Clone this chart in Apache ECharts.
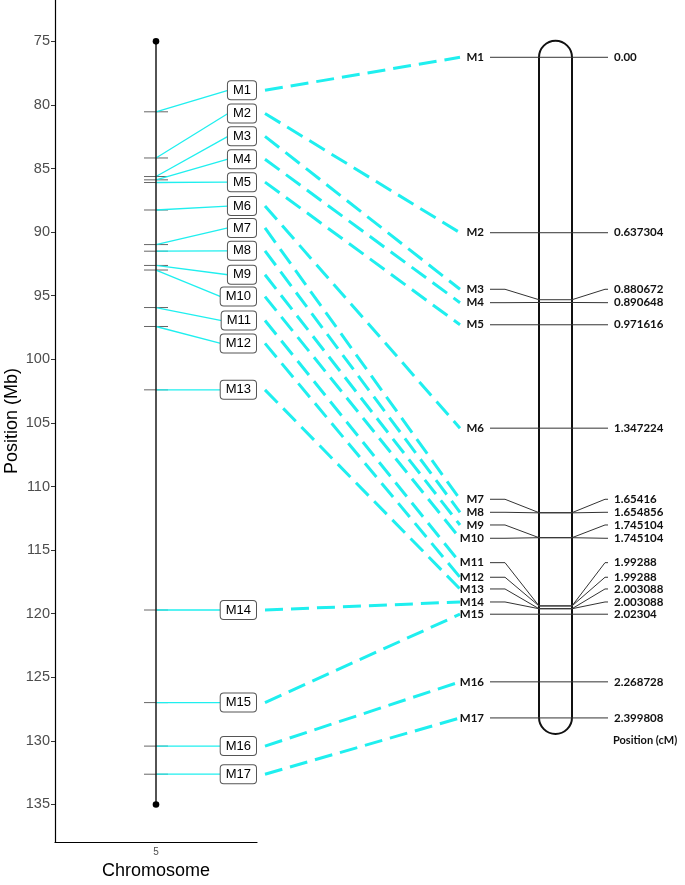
<!DOCTYPE html>
<html><head><meta charset="utf-8">
<script src="https://cdn.jsdelivr.net/npm/echarts@6/dist/echarts.min.js"></script>
<style>html,body{margin:0;padding:0;background:#fff}#c{width:685px;height:885px}</style>
</head><body><div id="c"></div>
<script>
// ---------------- data ----------------
const markers = ['M1','M2','M3','M4','M5','M6','M7','M8','M9','M10','M11','M12','M13','M14','M15','M16','M17'];
// physical positions (Mb) on chromosome 5
const physPosMb = [80.54, 84.17, 85.63, 85.89, 86.10, 88.26, 90.98, 91.50, 92.62, 92.98, 95.93, 97.42, 102.40, 119.71, 126.99, 130.41, 132.62];
// repelled label positions (Mb) of the boxes
const physLabelMb = [78.85, 80.67, 82.47, 84.27, 86.07, 87.95, 89.67, 91.47, 93.35, 95.07, 96.95, 98.75, 102.40, 119.71, 126.99, 130.41, 132.62];
// genetic positions (cM)
const geneticPosCm = [0, 0.637304, 0.880672, 0.890648, 0.971616, 1.347224, 1.65416, 1.654856, 1.745104, 1.745104, 1.99288, 1.99288, 2.003088, 2.003088, 2.02304, 2.268728, 2.399808];
const geneticLabels = ['0.00','0.637304','0.880672','0.890648','0.971616','1.347224','1.65416','1.654856','1.745104','1.745104','1.99288','1.99288','2.003088','2.003088','2.02304','2.268728','2.399808'];
// spread label positions (cM) on the linkage map
const geneticLabelCm = [0, 0.637304, 0.8427, 0.8914, 0.971616, 1.347224, 1.6055, 1.6528, 1.6989, 1.7472, 1.8358, 1.8888, 1.9313, 1.9786, 2.02304, 2.268728, 2.399808];
const chromosomeName = '5';
const chromStartMb = 75, chromEndMb = 135;
const linkageStartCm = -0.06, linkageEndCm = 2.458;
const yTickValues = [75, 80, 85, 90, 95, 100, 105, 110, 115, 120, 125, 130, 135];

// ---------------- layout / style ----------------
const LEFT_GRID = {left: 55, top: 0, width: 202, height: 846};
const RIGHT_GRID = {left: 539, top: 0, width: 33, height: 846};
const CYAN = '#1FEFEF';
const BOX_FONT = '13px "Liberation Sans", Arial, sans-serif';
const LAB_FONT = 'bold 11.5px Lato, "Open Sans", sans-serif';
const mctx = document.createElement('canvas').getContext('2d');
function textW(t, f) { mctx.font = f; return mctx.measureText(t).width; }

const chart = echarts.init(document.getElementById('c'), null, {renderer: 'canvas'});

function renderPhys(params, api) {
  const cs = params.coordSys;
  const i = params.dataIndex;
  const p = api.coord([api.value(0), api.value(1)]);
  const l = api.coord([api.value(0), api.value(2)]);
  const boxRight = cs.x + cs.width - 1;
  const w = textW(markers[i], BOX_FONT) + 10;
  return {type: 'group', children: [
    {type: 'line', shape: {x1: p[0] - 12, y1: p[1], x2: p[0] + 12, y2: p[1]}, style: {stroke: '#666', lineWidth: 1}},
    {type: 'line', shape: {x1: p[0], y1: p[1], x2: boxRight - w, y2: l[1]}, style: {stroke: CYAN, lineWidth: 1.3}},
    {type: 'text', x: boxRight, y: l[1], style: {text: markers[i], font: BOX_FONT, fill: '#000', align: 'right', verticalAlign: 'middle',
      backgroundColor: '#fff', borderColor: '#555', borderWidth: 1, borderRadius: 3, padding: [3, 5, 2, 5]}}
  ]};
}

function renderChrom(params, api) {
  const a = api.coord([api.value(0), api.value(1)]);
  const b = api.coord([api.value(0), api.value(2)]);
  return {type: 'group', children: [
    {type: 'line', shape: {x1: a[0], y1: a[1], x2: b[0], y2: b[1]}, style: {stroke: '#1a1a1a', lineWidth: 1.5}},
    {type: 'circle', shape: {cx: a[0], cy: a[1], r: 3.3}, style: {fill: '#000'}},
    {type: 'circle', shape: {cx: b[0], cy: b[1], r: 3.3}, style: {fill: '#000'}}
  ]};
}

function renderOutline(params, api) {
  const cs = params.coordSys;
  const y0 = api.coord([0.5, api.value(0)])[1];
  const y1 = api.coord([0.5, api.value(1)])[1];
  return {type: 'rect', shape: {x: cs.x, y: y0, width: cs.width, height: y1 - y0, r: cs.width / 2},
    style: {fill: null, stroke: '#111', lineWidth: 2}};
}

function renderGenetic(params, api) {
  const cs = params.coordSys;
  const i = params.dataIndex;
  const L = cs.x, R = cs.x + cs.width;
  const ay = api.coord([0.5, api.value(1)])[1];
  const ly = api.coord([0.5, api.value(2)])[1];
  return {type: 'group', children: [
    {type: 'polyline', shape: {points: [[L - 49, ly], [L - 34, ly], [L, ay], [R, ay], [R + 33, ly], [R + 36, ly]]},
      style: {stroke: '#333', lineWidth: 1, fill: null}},
    {type: 'text', x: L - 55, y: ly, style: {text: markers[i], font: LAB_FONT, fill: '#111', align: 'right', verticalAlign: 'middle'}},
    {type: 'text', x: R + 42, y: ly, style: {text: geneticLabels[i], font: LAB_FONT, fill: '#111', align: 'left', verticalAlign: 'middle'}}
  ]};
}

function renderDash(params, api) {
  return {type: 'line', shape: {x1: api.value(0), y1: api.value(1), x2: api.value(2), y2: api.value(3)},
    style: {stroke: CYAN, lineWidth: 3, lineDash: [18, 8]}};
}

const option = {
  animation: false,
  backgroundColor: '#fff',
  grid: [
    Object.assign({containLabel: false}, LEFT_GRID),
    Object.assign({containLabel: false}, RIGHT_GRID)
  ],
  xAxis: [
    {type: 'category', gridIndex: 0, data: [chromosomeName], boundaryGap: true,
      axisLine: {lineStyle: {color: '#000', width: 1.2}}, axisTick: {show: false},
      axisLabel: {fontSize: 10, color: '#4d4d4d', margin: 5, fontFamily: '"Liberation Sans", Arial'},
      name: 'Chromosome', nameLocation: 'middle', nameGap: 20,
      nameTextStyle: {fontSize: 18, color: '#000', fontFamily: '"Liberation Sans", Arial'}},
    {type: 'value', gridIndex: 1, min: 0, max: 1, show: false}
  ],
  yAxis: [
    {type: 'value', gridIndex: 0, inverse: true, min: 71.75, max: 137.95,
      axisLine: {show: true, lineStyle: {color: '#000', width: 1.2}},
      axisTick: {show: true, length: 4, customValues: yTickValues, lineStyle: {color: '#333'}},
      axisLabel: {customValues: yTickValues, fontSize: 14.5, color: '#4d4d4d', margin: 5, fontFamily: '"Liberation Sans", Arial'},
      splitLine: {show: false},
      name: 'Position (Mb)', nameLocation: 'middle', nameGap: 34,
      nameTextStyle: {fontSize: 18, color: '#000', fontFamily: '"Liberation Sans", Arial'}},
    {type: 'value', gridIndex: 1, inverse: true, min: -0.2081, max: 2.865, show: false}
  ],
  graphic: [
    {type: 'text', left: 613, top: 735, style: {text: 'Position (cM)', font: 'bold 11px Lato, "Open Sans", sans-serif', fill: '#111'}}
  ],
  series: [
    {id: 'phys', type: 'custom', xAxisIndex: 0, yAxisIndex: 0, z: 2,
      data: markers.map((m, i) => [chromosomeName, physPosMb[i], physLabelMb[i]]), renderItem: renderPhys},
    {id: 'chrom', type: 'custom', xAxisIndex: 0, yAxisIndex: 0, z: 3,
      data: [[chromosomeName, chromStartMb, chromEndMb]], renderItem: renderChrom},
    {id: 'outline', type: 'custom', xAxisIndex: 1, yAxisIndex: 1, z: 2,
      data: [[linkageStartCm, linkageEndCm]], encode: {y: [0, 1]}, renderItem: renderOutline},
    {id: 'genetic', type: 'custom', xAxisIndex: 1, yAxisIndex: 1, z: 3,
      data: markers.map((m, i) => [0.5, geneticPosCm[i], geneticLabelCm[i]]), encode: {x: 0, y: [1, 2]}, renderItem: renderGenetic},
    {id: 'dash', type: 'custom', coordinateSystem: 'none', z: 1, data: [], renderItem: renderDash}
  ]
};
chart.setOption(option);

// second pass: connect the two panels through each axis' own scale
const dashData = markers.map((m, i) => {
  const leftY = chart.convertToPixel({gridIndex: 0}, [chromosomeName, physLabelMb[i]])[1];
  const rightY = chart.convertToPixel({gridIndex: 1}, [0.5, geneticLabelCm[i]])[1];
  return [LEFT_GRID.left + LEFT_GRID.width + 8, leftY, RIGHT_GRID.left - 79, rightY];
});
chart.setOption({series: [{id: 'dash', data: dashData}]});
</script>
</body></html>
